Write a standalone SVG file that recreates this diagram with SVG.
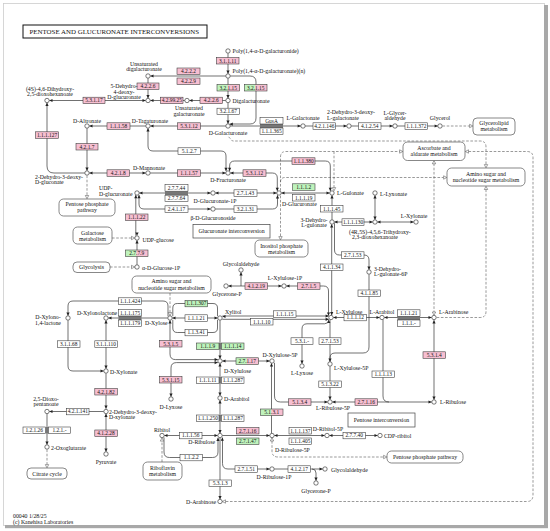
<svg xmlns="http://www.w3.org/2000/svg" width="550" height="531" viewBox="0 0 550 531">
<defs>
<style>
text{font-family:"Liberation Serif","Times New Roman",serif;fill:#111}
.t{font-size:5.8px}
.m{text-anchor:middle}
.s{text-anchor:start}
.r{text-anchor:end}
.et{font-size:5.4px;text-anchor:middle}
.c{fill:#fff;stroke:#222;stroke-width:.6}
.bw{fill:#fff;stroke:#333;stroke-width:.55}
.bp{fill:#f7bfd1;stroke:#333;stroke-width:.55}
.bg{fill:#bff3bc;stroke:#333;stroke-width:.55}
.bo{fill:none;stroke:#333;stroke-width:.55}
.pk{fill:#f7bfd1}
.gn{fill:#bff3bc}
.bar{fill:#777}
.ln{fill:none;stroke:#333;stroke-width:.7}
.dl{fill:none;stroke:#555;stroke-width:.6;stroke-dasharray:2.6 1.6}
.mp{fill:#fff;stroke:#555;stroke-width:.7}
.rb{fill:#fff;stroke:#444;stroke-width:.7}
</style>
<path id="a" d="M0,0L-3.2,-1.6L-3.2,1.6Z" fill="#222"/>
<path id="o" d="M0,0L-3.2,-1.7L-3.2,1.7Z" fill="#fff" stroke="#444" stroke-width=".5"/>
</defs>
<rect x="0" y="0" width="550" height="531" fill="#fff"/>
<rect x="3.5" y="3.5" width="541" height="522" fill="#fff" stroke="#ccc" stroke-width="0.8"/>
<rect x="544" y="5" width="4" height="523" fill="#a8a8a8"/>
<rect x="5" y="525" width="543" height="3.2" fill="#a8a8a8"/>

<g id="title">
<rect x="23" y="25" width="184" height="13" fill="#fff" stroke="#111" stroke-width="1"/>
<text x="29.5" y="34.3" font-size="6.2" textLength="169.5" lengthAdjust="spacingAndGlyphs">PENTOSE AND GLUCURONATE INTERCONVERSIONS</text>
</g>

<g id="connectors">
<!-- solid -->
<path class="ln" d="M228,53.3V73.8"/>
<path class="ln" d="M150.3,76H225.8"/>
<path class="ln" d="M148,78.2V98.3"/>
<path class="ln" d="M228,78.2V98.3"/>
<path class="ln" d="M230.2,76H250Q256,76 256,82V118Q256,124 250,124H229.6"/>
<path class="ln" d="M189.3,100.5H225.8"/>
<path class="ln" d="M150.3,100.5H184.8"/>
<path class="ln" d="M49.3,100.5H145.7"/>
<path class="ln" d="M228,102.7V123.7"/>
<path class="ln" d="M150.3,126H225.8"/>
<path class="ln" d="M89.3,126H145.8"/>
<path class="ln" d="M87,128.2V170.7"/>
<path class="ln" d="M47,102.8V166Q47,173 54,173H84.8"/>
<path class="ln" d="M89.3,173H145.8"/>
<path class="ln" d="M150.3,173H225.8"/>
<path class="ln" d="M148,128.3V146Q148,151 153,151H221Q226,151 226,156V170.9"/>
<path class="ln" d="M229.6,170.9V166Q229.6,161 234.6,161H325.3Q330.3,161 330.3,166V190.9"/>
<path class="ln" d="M230.3,173H272.3Q277.3,173 277.3,178V190.9"/>
<path class="ln" d="M230.2,126H300.8"/>
<path class="ln" d="M305.2,126H346.8"/>
<path class="ln" d="M351.2,126H392.8"/>
<path class="ln" d="M397.2,126H437.8"/>
<path class="ln" d="M139.3,193H210.7"/>
<path class="ln" d="M215.3,193H276.7"/>
<path class="ln" d="M281.3,193H329.7"/>
<path class="ln" d="M139,195V204Q139,209 144,209H210.7"/>
<path class="ln" d="M215.3,209H272.5Q277.5,209 277.5,204V195.2"/>
<path class="ln" d="M135.8,195.1V235.7"/>
<path class="ln" d="M137,264.8V240.3"/>
<path class="ln" d="M332,195.3V219.8"/>
<path class="ln" d="M334.3,222H372.7"/>
<path class="ln" d="M375,195.3V219.7"/>
<path class="ln" d="M377.3,222H413.7"/>
<path class="ln" d="M334.5,223.2V250Q334.5,255 339.5,255H364Q369,255 369,260V269.7"/>
<path class="ln" d="M331.7,224.3V315.2"/>
<path class="ln" d="M286.3,286H323.5Q328.5,286 328.5,291V315.6"/>
<path class="ln" d="M281.7,286H228.3"/>
<path class="ln" d="M241,286V272.3"/>
<path class="ln" d="M369,274.3V347Q369,353 363,353H335Q330,353 330,358V361.7"/>
<path class="ln" d="M330,319.7V361.7"/>
<path class="ln" d="M302,363.7V329Q302,323.8 307,323.8H324.5Q328.5,323.8 328.8,319.9"/>
<path class="ln" d="M330,366.3V399.7"/>
<path class="ln" d="M274.5,362.8V396Q274.5,402 280.5,402H327.7"/>
<path class="ln" d="M332.3,402H431.7"/>
<path class="ln" d="M434,320.2V399.7"/>
<path class="ln" d="M383,319.8V396Q383,402 389,402"/>
<path class="ln" d="M333.3,317.5H379.7"/>
<path class="ln" d="M384.3,317.5H431.7"/>
<path class="ln" d="M222.3,316H328.8"/>
<path class="ln" d="M222.3,319.3H328.8"/>
<path class="ln" d="M172.3,318H217.7"/>
<path class="ln" d="M172.8,316.2V308Q172.8,303.5 177.3,303.5H213Q217.5,303.5 217.5,308V316.2"/>
<path class="ln" d="M172.8,319.8V328Q172.8,332.5 177.3,332.5H213Q217.5,332.5 217.5,328V319.8"/>
<path class="ln" d="M168,316.3V306Q168,301 163,301H73Q68,301 68,306V315.7"/>
<path class="ln" d="M108.3,318H167.7"/>
<path class="ln" d="M68,320.3V366Q68,371 73,371H103.7"/>
<path class="ln" d="M106,320.3V368.7"/>
<path class="ln" d="M106,373.3V408.7"/>
<path class="ln" d="M103.7,411.5H49.3"/>
<path class="ln" d="M47,413.8V444.7"/>
<path class="ln" d="M106,413.8V451.7"/>
<path class="ln" d="M170,320.3V354Q170,359.6 175.6,359.6H217.8"/>
<path class="ln" d="M171,396.7V368Q171,362.6 176.4,362.6H217.8"/>
<path class="ln" d="M220,320.3V358.7"/>
<path class="ln" d="M222.3,361H269.7"/>
<path class="ln" d="M220,363.3V395.7"/>
<path class="ln" d="M220,400.3V433.2"/>
<path class="ln" d="M271.5,363.3V433.3"/>
<path class="ln" d="M222.3,435.5H269.7"/>
<path class="ln" d="M274.3,435.5H324.7"/>
<path class="ln" d="M329.3,435.5H377.7"/>
<path class="ln" d="M164.3,435.5H217.7"/>
<path class="ln" d="M164,437.4V452Q164,457.5 169.5,457.5H212.5Q218,457.5 218,452V437.8"/>
<path class="ln" d="M220,437.8V499.3"/>
<path class="ln" d="M222.5,437.6V463.5Q222.5,469 228,469H269.7"/>
<path class="ln" d="M274.3,469H322.7"/>
<path class="ln" d="M312,469Q316,469 316,473V480.7"/>
<!-- dashed -->
<path class="dl" d="M87,175.5V195.5"/>
<path class="dl" d="M112,238H131.5"/>
<path class="dl" d="M110,267H131.5"/>
<path class="dl" d="M280.5,195.7V236.5"/>
<path class="dl" d="M280.5,190.7V157Q280.5,151.5 286,151.5H399.6"/>
<path class="dl" d="M280.5,182Q280.5,177.5 285,177.5H443.6"/>
<path class="dl" d="M334,151.5V187.6"/>
<path class="dl" d="M228.6,136.8L232.5,141H480Q486,141 486,147V164.5"/>
<path class="dl" d="M468.5,151.5H527Q533,151.5 533,157.5V495Q533,501.5 527,501.5H225.5"/>
<path class="dl" d="M434,163.5V312"/>
<path class="dl" d="M486,189.5V311.5Q486,317.5 480,317.5H436.5"/>
<path class="dl" d="M442.5,126H469.6"/>
<path class="dl" d="M272,441V451Q272,457 278,457H383.6"/>
<path class="dl" d="M170,293V312.5"/>
<path class="dl" d="M47,449.5V464.6"/>
<path class="dl" d="M162,462V441.5"/>
<!-- arrowheads -->
<use href="#a" transform="translate(228,73.8) rotate(90)"/>
<use href="#a" transform="translate(150.3,76) rotate(180)"/>
<use href="#a" transform="translate(148,98.3) rotate(90)"/>
<use href="#a" transform="translate(228,98.3) rotate(90)"/>
<use href="#a" transform="translate(229.6,124.2) rotate(180)"/>
<use href="#a" transform="translate(189.3,100.5) rotate(180)"/>
<use href="#a" transform="translate(150.3,100.5) rotate(180)"/>
<use href="#a" transform="translate(49.3,100.5) rotate(180)"/>
<use href="#a" transform="translate(145.7,100.5)"/>
<use href="#a" transform="translate(228,123.7) rotate(90)"/>
<use href="#a" transform="translate(150.3,126) rotate(180)"/>
<use href="#a" transform="translate(89.3,126) rotate(180)"/>
<use href="#a" transform="translate(87,170.7) rotate(90)"/>
<use href="#a" transform="translate(47,102.8) rotate(-90)"/>
<use href="#a" transform="translate(89.3,173) rotate(180)"/>
<use href="#a" transform="translate(145.7,173)"/>
<use href="#a" transform="translate(225.7,173)"/>
<use href="#a" transform="translate(230.3,173) rotate(180)"/>
<use href="#a" transform="translate(148,128.3) rotate(-90)"/>
<use href="#a" transform="translate(226,170.9) rotate(90)"/>
<use href="#a" transform="translate(229.6,170.9) rotate(90)"/>
<use href="#a" transform="translate(330.3,190.9) rotate(90)"/>
<use href="#a" transform="translate(277.3,190.9) rotate(90)"/>
<use href="#a" transform="translate(300.8,126)"/>
<use href="#a" transform="translate(346.8,126)"/>
<use href="#a" transform="translate(392.8,126)"/>
<use href="#a" transform="translate(437.8,126)"/>
<use href="#a" transform="translate(139.3,193) rotate(180)"/>
<use href="#a" transform="translate(210.7,193)"/>
<use href="#a" transform="translate(215.3,193) rotate(180)"/>
<use href="#a" transform="translate(276.7,193)"/>
<use href="#a" transform="translate(281.3,193) rotate(180)"/>
<use href="#a" transform="translate(329.7,193)"/>
<use href="#a" transform="translate(135.8,195.1) rotate(-90)"/>
<use href="#a" transform="translate(139,195) rotate(-90)"/>
<use href="#a" transform="translate(210.7,209)"/>
<use href="#a" transform="translate(277.5,195.2) rotate(-90)"/>
<use href="#a" transform="translate(137,235.7) rotate(90)"/>
<use href="#a" transform="translate(137,240.3) rotate(-90)"/>
<use href="#a" transform="translate(332,195.3) rotate(-90)"/>
<use href="#a" transform="translate(334.3,222) rotate(180)"/>
<use href="#a" transform="translate(372.7,222)"/>
<use href="#a" transform="translate(375,195.3) rotate(-90)"/>
<use href="#a" transform="translate(375,219.7) rotate(90)"/>
<use href="#a" transform="translate(377.3,222) rotate(180)"/>
<use href="#a" transform="translate(413.7,222)"/>
<use href="#a" transform="translate(369,269.7) rotate(90)"/>
<use href="#a" transform="translate(331.7,224.3) rotate(-90)"/>
<use href="#a" transform="translate(331.7,315.2) rotate(90)"/>
<use href="#a" transform="translate(328.5,315.6) rotate(90)"/>
<use href="#a" transform="translate(286.3,286) rotate(180)"/>
<use href="#a" transform="translate(281.7,286)"/>
<use href="#a" transform="translate(228.3,286) rotate(180)"/>
<use href="#a" transform="translate(241,272.3) rotate(-90)"/>
<use href="#a" transform="translate(330,361.7) rotate(90)"/>
<use href="#a" transform="translate(328.8,319.9) rotate(-90)"/>
<use href="#a" transform="translate(302,363.7) rotate(90)"/>
<use href="#a" transform="translate(330,399.7) rotate(90)"/>
<use href="#a" transform="translate(327.7,402)"/>
<use href="#a" transform="translate(332.3,402) rotate(180)"/>
<use href="#a" transform="translate(431.7,402)"/>
<use href="#a" transform="translate(434,320.2) rotate(-90)"/>
<use href="#a" transform="translate(434,399.7) rotate(90)"/>
<use href="#a" transform="translate(333.3,317.5) rotate(180)"/>
<use href="#a" transform="translate(379.7,317.5)"/>
<use href="#a" transform="translate(384.3,317.5) rotate(180)"/>
<use href="#a" transform="translate(431.7,317.5)"/>
<use href="#a" transform="translate(222.3,316.5) rotate(180)"/>
<use href="#a" transform="translate(328.8,316)"/>
<use href="#a" transform="translate(328.8,319.3)"/>
<use href="#a" transform="translate(172.3,318) rotate(180)"/>
<use href="#a" transform="translate(217.7,318)"/>
<use href="#a" transform="translate(108.3,318) rotate(180)"/>
<use href="#a" transform="translate(68,315.7) rotate(90)"/>
<use href="#a" transform="translate(103.7,371)"/>
<use href="#a" transform="translate(106,320.3) rotate(-90)"/>
<use href="#a" transform="translate(106,368.7) rotate(90)"/>
<use href="#a" transform="translate(106,408.7) rotate(90)"/>
<use href="#a" transform="translate(49.3,411.5) rotate(180)"/>
<use href="#a" transform="translate(47,444.7) rotate(90)"/>
<use href="#a" transform="translate(106,413.8) rotate(-90)"/>
<use href="#a" transform="translate(106,451.7) rotate(90)"/>
<use href="#a" transform="translate(170,320.3) rotate(-90)"/>
<use href="#a" transform="translate(217.8,359.6)"/>
<use href="#a" transform="translate(217.8,362.6)"/>
<use href="#a" transform="translate(171,396.7) rotate(90)"/>
<use href="#a" transform="translate(220,358.7) rotate(90)"/>
<use href="#a" transform="translate(222.3,361) rotate(180)"/>
<use href="#a" transform="translate(269.7,361)"/>
<use href="#a" transform="translate(220,363.3) rotate(-90)"/>
<use href="#a" transform="translate(220,395.7) rotate(90)"/>
<use href="#a" transform="translate(220,400.3) rotate(-90)"/>
<use href="#a" transform="translate(220,433.2) rotate(90)"/>
<use href="#a" transform="translate(271.5,363.3) rotate(-90)"/>
<use href="#a" transform="translate(269.7,435.5)"/>
<use href="#a" transform="translate(274.3,435.5) rotate(180)"/>
<use href="#a" transform="translate(324.7,435.5)"/>
<use href="#a" transform="translate(329.3,435.5) rotate(180)"/>
<use href="#a" transform="translate(377.7,435.5)"/>
<use href="#a" transform="translate(164.3,435.5) rotate(180)"/>
<use href="#a" transform="translate(217.7,435.5)"/>
<use href="#a" transform="translate(218,437.8) rotate(-90)"/>
<use href="#a" transform="translate(222.3,437.6) rotate(-90)"/>
<use href="#a" transform="translate(220,499.3) rotate(90)"/>
<use href="#a" transform="translate(269.7,469)"/>
<use href="#a" transform="translate(322.7,469)"/>
<use href="#a" transform="translate(316,480.7) rotate(90)"/>
<use href="#o" transform="translate(87,198.7) rotate(90)"/>
<use href="#o" transform="translate(134.7,238)"/>
<use href="#o" transform="translate(134.7,267)"/>
<use href="#o" transform="translate(280.5,239.8) rotate(90)"/>
<use href="#o" transform="translate(402.8,151.5)"/>
<use href="#o" transform="translate(446.8,177.5)"/>
<use href="#o" transform="translate(334,190.8) rotate(90)"/>
<use href="#o" transform="translate(486,167.8) rotate(90)"/>
<use href="#o" transform="translate(465.3,151.5) rotate(180)"/>
<use href="#o" transform="translate(222.3,501.5) rotate(180)"/>
<use href="#o" transform="translate(434,160.6) rotate(-90)"/>
<use href="#o" transform="translate(434,315.2) rotate(90)"/>
<use href="#o" transform="translate(486,186.3) rotate(-90)"/>
<use href="#o" transform="translate(472.8,126)"/>
<use href="#o" transform="translate(272,437.8) rotate(-90)"/>
<use href="#o" transform="translate(386.8,457)"/>
<use href="#o" transform="translate(170,315.7) rotate(90)"/>
<use href="#o" transform="translate(47,467.8) rotate(90)"/>
<use href="#o" transform="translate(162,437.9) rotate(-90)"/>
</g>

<g id="maps">
<g id="m_glycerolipid"><rect class="mp" x="473" y="118" width="42" height="17" rx="4"/><text class="t m" x="494" y="124.8">Glycerolipid</text><text class="t m" x="494" y="130.8">metabolism</text></g>
<g id="m_ascorbate"><rect class="mp" x="403" y="142" width="62" height="18.5" rx="4.5"/><text class="t m" x="434" y="149.7">Ascorbate and</text><text class="t m" x="434" y="155.9">aldarate metabolism</text></g>
<g id="m_aminosugar_r"><rect class="mp" x="447" y="168" width="78" height="18" rx="4.5"/><text class="t m" x="486" y="175.5">Amino sugar and</text><text class="t m" x="486" y="181.7">nucleotide sugar metabolism</text></g>
<g id="m_ppp_l"><rect class="mp" x="59" y="199" width="56" height="17" rx="4.5"/><text class="t m" x="87" y="205.7">Pentose phosphate</text><text class="t m" x="87" y="211.9">pathway</text></g>
<g id="m_galactose"><rect class="mp" x="73" y="227" width="39" height="17" rx="4.5"/><text class="t m" x="92.5" y="234.6">Galactose</text><text class="t m" x="92.5" y="240.8">metabolism</text></g>
<g id="m_glycolysis"><rect class="mp" x="73" y="262" width="37" height="10.5" rx="4"/><text class="t m" x="91.5" y="269.3">Glycolysis</text></g>
<g id="m_inositol"><rect class="mp" x="255" y="240" width="53" height="17" rx="4.5"/><text class="t m" x="281.5" y="247.6">Inositol phosphate</text><text class="t m" x="281.5" y="253.8">metabolism</text></g>
<g id="m_aminosugar_l"><rect class="mp" x="132" y="276" width="79" height="17" rx="4.5"/><text class="t m" x="171.5" y="283.4">Amino sugar and</text><text class="t m" x="171.5" y="289.6">nucleotide sugar metabolism</text></g>
<g id="m_riboflavin"><rect class="mp" x="143" y="462" width="39" height="18" rx="4.5"/><text class="t m" x="162.5" y="469.8">Riboflavin</text><text class="t m" x="162.5" y="476">metabolism</text></g>
<g id="m_citrate"><rect class="mp" x="27" y="468" width="40" height="11" rx="4"/><text class="t m" x="47" y="475.6">Citrate cycle</text></g>
<g id="m_ppp_r"><rect class="mp" x="387" y="451" width="76" height="12" rx="4.5"/><text class="t m" x="425" y="459.1">Pentose phosphate pathway</text></g>
<g id="r_glucuronate"><rect class="rb" x="193" y="224.5" width="77" height="13.5"/><text class="t m" x="231.5" y="233.3">Glucuronate interconversion</text></g>
<g id="r_pentose"><rect class="rb" x="348" y="413" width="67" height="14"/><text class="t m" x="381.5" y="422">Pentose interconversion</text></g>
</g>

<g id="enzymes">
<rect class="bar" x="260" y="124" width="23" height="4"/>
<rect class="bar" x="165" y="191.2" width="23" height="4"/>
<rect class="bar" x="118.5" y="316" width="23" height="4"/>
<rect class="bar" x="397.5" y="316.2" width="22.5" height="3.8"/>
<rect class="bar" x="45.5" y="427" width="3" height="6.5"/>
<rect class="bar" x="219" y="343" width="2.5" height="6.5"/>
<rect class="bar" x="219" y="377" width="2.5" height="6.5"/>
<rect class="bar" x="219" y="415" width="2.5" height="6.5"/>
<g id="e_3.1.1.11"><rect class="bp" x="216.5" y="57.5" width="22.5" height="6.5"/><text class="et" x="227.75" y="62.6">3.1.1.11</text></g>
<g id="e_4.2.2.2"><rect class="bp" x="177" y="68" width="23" height="6.5"/><text class="et" x="188.5" y="73.1">4.2.2.2</text></g>
<g id="e_4.2.2.9"><rect class="bp" x="177" y="78" width="23" height="6.5"/><text class="et" x="188.5" y="83.1">4.2.2.9</text></g>
<g id="e_3.2.1.15a"><rect class="gn" x="217" y="84.5" width="22.5" height="6.5"/><rect class="pk" x="227.8" y="84.5" width="11.7" height="6.5"/><rect class="bo" x="217" y="84.5" width="22.5" height="6.5"/><text class="et" x="228.25" y="89.6">3.2.1.15</text></g>
<g id="e_3.2.1.15b"><rect class="gn" x="244.5" y="84.5" width="22.5" height="6.5"/><rect class="pk" x="255.3" y="84.5" width="11.7" height="6.5"/><rect class="bo" x="244.5" y="84.5" width="22.5" height="6.5"/><text class="et" x="255.75" y="89.6">3.2.1.15</text></g>
<g id="e_4.2.2.6a"><rect class="bp" x="137" y="83" width="22" height="6.5"/><text class="et" x="148" y="88.1">4.2.2.6</text></g>
<g id="e_5.3.1.17"><rect class="bp" x="83" y="97.2" width="22" height="6.5"/><text class="et" x="94" y="102.3">5.3.1.17</text></g>
<g id="e_4.2.99.25"><rect class="bp" x="160.5" y="97.2" width="22.5" height="6.5"/><text class="et" x="171.75" y="102.3">4.2.99.25</text></g>
<g id="e_4.2.2.6b"><rect class="bp" x="200" y="97.2" width="22.5" height="6.5"/><text class="et" x="211.25" y="102.3">4.2.2.6</text></g>
<g id="e_3.2.1.67"><rect class="bw" x="217" y="108.2" width="22.5" height="6.5"/><text class="et" x="228.25" y="113.3">3.2.1.67</text></g>
<g id="e_1.1.1.58"><rect class="bp" x="107" y="122.8" width="23" height="6.5"/><text class="et" x="118.5" y="127.9">1.1.1.58</text></g>
<g id="e_5.3.1.12a"><rect class="bp" x="177.5" y="122.8" width="23" height="6.5"/><text class="et" x="189" y="127.9">5.3.1.12</text></g>
<g id="e_GusA"><rect class="bw" x="260" y="117.5" width="23" height="6.5"/><text class="et" x="271.5" y="122.6">GusA</text></g>
<g id="e_1.1.1.365"><rect class="bw" x="260" y="128" width="23" height="6.5"/><text class="et" x="271.5" y="133.1">1.1.1.365</text></g>
<g id="e_4.2.1.146"><rect class="bw" x="313" y="122.8" width="22.5" height="6.5"/><text class="et" x="324.25" y="127.9">4.2.1.146</text></g>
<g id="e_4.1.2.54"><rect class="bw" x="358.5" y="122.8" width="22.5" height="6.5"/><text class="et" x="369.75" y="127.9">4.1.2.54</text></g>
<g id="e_1.1.1.372"><rect class="bw" x="405" y="122.8" width="22.5" height="6.5"/><text class="et" x="416.25" y="127.9">1.1.1.372</text></g>
<g id="e_1.1.1.127"><rect class="bp" x="35.5" y="131.8" width="23" height="6.5"/><text class="et" x="47" y="136.9">1.1.1.127</text></g>
<g id="e_4.2.1.7"><rect class="bp" x="76" y="143.5" width="22" height="6.5"/><text class="et" x="87" y="148.6">4.2.1.7</text></g>
<g id="e_5.1.2.7"><rect class="bw" x="178" y="147.8" width="22.5" height="6.5"/><text class="et" x="189.25" y="152.9">5.1.2.7</text></g>
<g id="e_4.2.1.8"><rect class="bp" x="107" y="169.8" width="22.5" height="6.5"/><text class="et" x="118.25" y="174.9">4.2.1.8</text></g>
<g id="e_1.1.1.57"><rect class="bp" x="177.5" y="169.8" width="23" height="6.5"/><text class="et" x="189" y="174.9">1.1.1.57</text></g>
<g id="e_5.3.1.12b"><rect class="bp" x="243" y="169.8" width="23" height="6.5"/><text class="et" x="254.5" y="174.9">5.3.1.12</text></g>
<g id="e_1.1.1.380"><rect class="bp" x="292" y="157.8" width="23" height="6.5"/><text class="et" x="303.5" y="162.9">1.1.1.380</text></g>
<g id="e_2.7.7.44"><rect class="bw" x="165" y="184.7" width="23" height="6.5"/><text class="et" x="176.5" y="189.8">2.7.7.44</text></g>
<g id="e_2.7.7.64"><rect class="bw" x="165" y="195.2" width="23" height="6.5"/><text class="et" x="176.5" y="200.3">2.7.7.64</text></g>
<g id="e_2.7.1.43"><rect class="bw" x="234" y="189.8" width="23" height="6.5"/><text class="et" x="245.5" y="194.9">2.7.1.43</text></g>
<g id="e_1.1.1.2"><rect class="bg" x="292.5" y="183.8" width="22.5" height="6.5"/><text class="et" x="303.75" y="188.9">1.1.1.2</text></g>
<g id="e_1.1.1.19"><rect class="bw" x="292.5" y="194.5" width="22.5" height="6.5"/><text class="et" x="303.75" y="199.6">1.1.1.19</text></g>
<g id="e_2.4.1.17"><rect class="bw" x="165" y="205.8" width="23" height="6.5"/><text class="et" x="176.5" y="210.9">2.4.1.17</text></g>
<g id="e_3.2.1.31"><rect class="bw" x="234" y="205.8" width="23" height="6.5"/><text class="et" x="245.5" y="210.9">3.2.1.31</text></g>
<g id="e_1.1.1.45"><rect class="bw" x="320.5" y="205.5" width="22.5" height="6.5"/><text class="et" x="331.75" y="210.6">1.1.1.45</text></g>
<g id="e_1.1.1.130"><rect class="bw" x="342" y="218.8" width="22" height="6.5"/><text class="et" x="353" y="223.9">1.1.1.130</text></g>
<g id="e_1.1.1.22"><rect class="bp" x="125.5" y="214" width="22.5" height="6.5"/><text class="et" x="136.75" y="219.1">1.1.1.22</text></g>
<g id="e_2.7.7.9"><rect class="gn" x="125.5" y="250" width="22.5" height="6.5"/><rect class="pk" x="136.3" y="250" width="11.7" height="6.5"/><rect class="bo" x="125.5" y="250" width="22.5" height="6.5"/><text class="et" x="136.75" y="255.1">2.7.7.9</text></g>
<g id="e_2.7.1.53a"><rect class="bw" x="341.5" y="251.8" width="22.5" height="6.5"/><text class="et" x="352.75" y="256.9">2.7.1.53</text></g>
<g id="e_4.1.1.34"><rect class="bw" x="320.5" y="264" width="22.5" height="6.5"/><text class="et" x="331.75" y="269.1">4.1.1.34</text></g>
<g id="e_4.1.2.19"><rect class="bp" x="245" y="282.8" width="22.5" height="6.5"/><text class="et" x="256.25" y="287.9">4.1.2.19</text></g>
<g id="e_2.7.1.5"><rect class="bp" x="297.5" y="282.8" width="22.5" height="6.5"/><text class="et" x="308.75" y="287.9">2.7.1.5</text></g>
<g id="e_4.1.1.85"><rect class="bw" x="358" y="290" width="22.5" height="6.5"/><text class="et" x="369.25" y="295.1">4.1.1.85</text></g>
<g id="e_1.1.1.424"><rect class="bw" x="118.5" y="297.8" width="23" height="6.5"/><text class="et" x="130" y="302.9">1.1.1.424</text></g>
<g id="e_1.1.1.307"><rect class="bg" x="185" y="300.3" width="22.5" height="6.5"/><text class="et" x="196.25" y="305.4">1.1.1.307</text></g>
<g id="e_1.1.1.175"><rect class="bw" x="118.5" y="309.5" width="23" height="6.5"/><text class="et" x="130" y="314.6">1.1.1.175</text></g>
<g id="e_1.1.1.179"><rect class="bw" x="118.5" y="320" width="23" height="6.5"/><text class="et" x="130" y="325.1">1.1.1.179</text></g>
<g id="e_1.1.1.21a"><rect class="bw" x="185" y="314.8" width="22.5" height="6.5"/><text class="et" x="196.25" y="319.9">1.1.1.21</text></g>
<g id="e_1.1.3.41"><rect class="bw" x="185" y="329.3" width="22.5" height="6.5"/><text class="et" x="196.25" y="334.4">1.1.3.41</text></g>
<g id="e_1.1.1.15"><rect class="bw" x="273.5" y="310.8" width="22.5" height="6.5"/><text class="et" x="284.75" y="315.9">1.1.1.15</text></g>
<g id="e_1.1.1.10"><rect class="bw" x="250.5" y="318.5" width="22.5" height="6.5"/><text class="et" x="261.75" y="323.6">1.1.1.10</text></g>
<g id="e_1.1.1.12"><rect class="bw" x="344" y="314.3" width="22.5" height="6.5"/><text class="et" x="355.25" y="319.4">1.1.1.12</text></g>
<g id="e_1.1.1.21b"><rect class="bw" x="397.5" y="309.8" width="22.5" height="6.5"/><text class="et" x="408.75" y="314.9">1.1.1.21</text></g>
<g id="e_1.1.1.-"><rect class="bw" x="397.5" y="320" width="22.5" height="6.5"/><text class="et" x="408.75" y="325.1">1.1.1.-</text></g>
<g id="e_3.1.1.68"><rect class="bw" x="57.5" y="340.8" width="22.5" height="6.5"/><text class="et" x="68.75" y="345.9">3.1.1.68</text></g>
<g id="e_3.1.1.110"><rect class="bw" x="94.8" y="340.8" width="22.5" height="6.5"/><text class="et" x="106" y="345.9">3.1.1.110</text></g>
<g id="e_5.3.1.5"><rect class="bp" x="159.5" y="340.5" width="22.5" height="6.5"/><text class="et" x="170.75" y="345.6">5.3.1.5</text></g>
<g id="e_1.1.1.9"><rect class="bg" x="196.5" y="343" width="22.5" height="6.5"/><text class="et" x="207.75" y="348.1">1.1.1.9</text></g>
<g id="e_1.1.1.14"><rect class="bg" x="221.5" y="343" width="22.5" height="6.5"/><text class="et" x="232.75" y="348.1">1.1.1.14</text></g>
<g id="e_5.3.1.-"><rect class="bw" x="291" y="337.8" width="22" height="6.5"/><text class="et" x="302" y="342.9">5.3.1.-</text></g>
<g id="e_2.7.1.53b"><rect class="bw" x="319" y="337.8" width="22" height="6.5"/><text class="et" x="330" y="342.9">2.7.1.53</text></g>
<g id="e_2.7.1.17"><rect class="gn" x="236" y="357.8" width="22.5" height="6.5"/><rect class="pk" x="246.8" y="357.8" width="11.7" height="6.5"/><rect class="bo" x="236" y="357.8" width="22.5" height="6.5"/><text class="et" x="247.25" y="362.9">2.7.1.17</text></g>
<g id="e_5.3.1.15"><rect class="bp" x="159.5" y="376.5" width="22.5" height="6.5"/><text class="et" x="170.75" y="381.6">5.3.1.15</text></g>
<g id="e_1.1.1.11"><rect class="bw" x="196.5" y="377" width="22.5" height="6.5"/><text class="et" x="207.75" y="382.1">1.1.1.11</text></g>
<g id="e_1.1.1.287a"><rect class="bw" x="221.5" y="377" width="22.5" height="6.5"/><text class="et" x="232.75" y="382.1">1.1.1.287</text></g>
<g id="e_1.1.1.13"><rect class="bw" x="372" y="371" width="22.5" height="6.5"/><text class="et" x="383.25" y="376.1">1.1.1.13</text></g>
<g id="e_5.1.3.22"><rect class="bw" x="318.8" y="381" width="22.5" height="6.5"/><text class="et" x="330" y="386.1">5.1.3.22</text></g>
<g id="e_4.2.1.82"><rect class="bp" x="94.8" y="388.5" width="22.5" height="6.5"/><text class="et" x="106" y="393.6">4.2.1.82</text></g>
<g id="e_5.1.3.4"><rect class="bp" x="288.5" y="398.8" width="22.5" height="6.5"/><text class="et" x="299.75" y="403.9">5.1.3.4</text></g>
<g id="e_2.7.1.16a"><rect class="bp" x="355" y="398.8" width="22.5" height="6.5"/><text class="et" x="366.25" y="403.9">2.7.1.16</text></g>
<g id="e_5.1.3.1"><rect class="gn" x="260.5" y="409" width="22.5" height="6.5"/><rect class="pk" x="271.3" y="409" width="11.7" height="6.5"/><rect class="bo" x="260.5" y="409" width="22.5" height="6.5"/><text class="et" x="271.75" y="414.1">5.1.3.1</text></g>
<g id="e_4.2.1.141"><rect class="bw" x="66.5" y="408.3" width="22.5" height="6.5"/><text class="et" x="77.75" y="413.4">4.2.1.141</text></g>
<g id="e_1.1.1.250"><rect class="bw" x="196.5" y="415" width="22.5" height="6.5"/><text class="et" x="207.75" y="420.1">1.1.1.250</text></g>
<g id="e_1.1.1.287b"><rect class="bw" x="221.5" y="415" width="22.5" height="6.5"/><text class="et" x="232.75" y="420.1">1.1.1.287</text></g>
<g id="e_1.2.1.26"><rect class="bw" x="23" y="427" width="22.5" height="6.5"/><text class="et" x="34.25" y="432.1">1.2.1.26</text></g>
<g id="e_1.2.1.-"><rect class="bw" x="48.5" y="427" width="22" height="6.5"/><text class="et" x="59.5" y="432.1">1.2.1.-</text></g>
<g id="e_2.7.1.16b"><rect class="bp" x="236.5" y="427.5" width="22.5" height="6.5"/><text class="et" x="247.75" y="432.6">2.7.1.16</text></g>
<g id="e_2.7.1.47"><rect class="bg" x="236.5" y="438" width="22.5" height="6.5"/><text class="et" x="247.75" y="443.1">2.7.1.47</text></g>
<g id="e_1.1.1.137"><rect class="bw" x="289" y="427.5" width="22.5" height="6.5"/><text class="et" x="300.25" y="432.6">1.1.1.137</text></g>
<g id="e_1.1.1.405"><rect class="bw" x="289" y="438" width="22.5" height="6.5"/><text class="et" x="300.25" y="443.1">1.1.1.405</text></g>
<g id="e_4.1.2.28"><rect class="bp" x="94.8" y="430" width="22.5" height="6.5"/><text class="et" x="106" y="435.1">4.1.2.28</text></g>
<g id="e_1.1.1.56"><rect class="bw" x="179.5" y="432.3" width="22.5" height="6.5"/><text class="et" x="190.75" y="437.4">1.1.1.56</text></g>
<g id="e_2.7.7.40"><rect class="bw" x="343" y="432.3" width="22.5" height="6.5"/><text class="et" x="354.25" y="437.4">2.7.7.40</text></g>
<g id="e_5.3.1.4"><rect class="bp" x="423" y="351.8" width="22.5" height="6.5"/><text class="et" x="434.25" y="356.9">5.3.1.4</text></g>
<g id="e_1.1.2.2"><rect class="bw" x="180" y="454.3" width="22.5" height="6.5"/><text class="et" x="191.25" y="459.4">1.1.2.2</text></g>
<g id="e_2.7.1.51"><rect class="bw" x="235" y="465.8" width="22.5" height="6.5"/><text class="et" x="246.25" y="470.9">2.7.1.51</text></g>
<g id="e_4.1.2.17"><rect class="bw" x="288" y="465.8" width="22.5" height="6.5"/><text class="et" x="299.25" y="470.9">4.1.2.17</text></g>
<g id="e_5.3.1.3"><rect class="bw" x="209" y="480" width="22.5" height="6.5"/><text class="et" x="220.25" y="485.1">5.3.1.3</text></g>
</g>

<g id="compounds">
<g id="c_polygalacturonide"><circle class="c" cx="228" cy="51" r="2.2"/><text class="t s" x="232.5" y="53">Poly(1,4-α-D-galacturonide)</text></g>
<g id="c_polygalacturonate_n"><circle class="c" cx="228" cy="76" r="2.2"/><text class="t s" x="232.5" y="73">Poly(1,4-α-D-galacturonate)(n)</text></g>
<g id="c_unsat_digal"><circle class="c" cx="148" cy="76" r="2.2"/><text class="t m" x="144" y="66">Unsaturated</text><text class="t m" x="144" y="71">digalacturonate</text></g>
<g id="c_5dehydro"><circle class="c" cx="148" cy="100.5" r="2.2"/><text class="t m" x="124" y="88">5-Dehydro-</text><text class="t m" x="124" y="93.5">4-deoxy-</text><text class="t m" x="124" y="99">D-glucuronate</text></g>
<g id="c_4S"><circle class="c" cx="47" cy="100.5" r="2.2"/><text class="t m" x="50" y="91">(4S)-4,6-Dihydroxy-</text><text class="t m" x="50" y="96">2,5-dioxohexanoate</text></g>
<g id="c_unsat_gal"><circle class="c" cx="187" cy="100.5" r="2.2"/><text class="t m" x="189" y="110">Unsaturated</text><text class="t m" x="189" y="116">galacturonate</text></g>
<g id="c_digal"><circle class="c" cx="228" cy="100.5" r="2.2"/><text class="t s" x="232.5" y="103">Digalacturonate</text></g>
<g id="c_dgalacturonate"><circle class="c" cx="228" cy="126" r="2.2"/><text class="t m" x="228" y="135">D-Galacturonate</text></g>
<g id="c_lgalactonate"><circle class="c" cx="303" cy="126" r="2.2"/><text class="t m" x="303" y="120">L-Galactonate</text></g>
<g id="c_2dh_lgalactonate"><circle class="c" cx="349" cy="126" r="2.2"/><text class="t s" x="327" y="114">2-Dehydro-3-deoxy-</text><text class="t s" x="327" y="120">L-galactonate</text></g>
<g id="c_lglyceraldehyde"><circle class="c" cx="395" cy="126" r="2.2"/><text class="t m" x="395" y="114.5">L-Glycer-</text><text class="t m" x="395" y="119.5">aldehyde</text></g>
<g id="c_glycerol"><circle class="c" cx="440" cy="126" r="2.2"/><text class="t m" x="440" y="120">Glycerol</text></g>
<g id="c_daltronate"><circle class="c" cx="87" cy="126" r="2.2"/><text class="t m" x="87" y="123">D-Altronate</text></g>
<g id="c_dtagaturonate"><circle class="c" cx="148" cy="126" r="2.2"/><text class="t m" x="150" y="122.5">D-Tagaturonate</text></g>
<g id="c_2dh_dgluconate"><circle class="c" cx="87" cy="173" r="2.2"/><text class="t s" x="35" y="178.5">2-Dehydro-3-deoxy-</text><text class="t s" x="35" y="183.5">D-gluconate</text></g>
<g id="c_dmannonate"><circle class="c" cx="148" cy="173" r="2.2"/><text class="t m" x="149" y="170">D-Mannonate</text></g>
<g id="c_dfructuronate"><circle class="c" cx="228" cy="173" r="2.2"/><text class="t m" x="228" y="182">D-Fructuronate</text></g>
<g id="c_udpglucuronate"><circle class="c" cx="137" cy="193" r="2.2"/><text class="t s" x="99" y="190">UDP-</text><text class="t s" x="99" y="196">D-glucuronate</text></g>
<g id="c_dglucuronate1p"><circle class="c" cx="213" cy="193" r="2.2"/><text class="t m" x="215" y="202.5">D-Glucuronate-1P</text></g>
<g id="c_dglucuronate"><circle class="c" cx="279" cy="193" r="2.2"/><text class="t s" x="282" y="206">D-Glucuronate</text></g>
<g id="c_bglucuronoside"><circle class="c" cx="213" cy="209" r="2.2"/><text class="t m" x="213" y="219.5">β-D-Glucuronoside</text></g>
<g id="c_lgulonate"><circle class="c" cx="332" cy="193" r="2.2"/><text class="t s" x="337" y="195">L-Gulonate</text></g>
<g id="c_3dh_lgulonate"><circle class="c" cx="332" cy="222" r="2.2"/><text class="t m" x="314" y="221.5">3-Dehydro-</text><text class="t m" x="314" y="226.5">L-gulonate</text></g>
<g id="c_4R5S"><circle class="c" cx="375" cy="222" r="2.2"/><text class="t s" x="349" y="233.5">(4R,5S)-4,5,6-Trihydroxy-</text><text class="t s" x="352" y="238.5">2,3-dioxohexanoate</text></g>
<g id="c_llyxonate"><circle class="c" cx="375" cy="193" r="2.2"/><text class="t s" x="380" y="195.5">L-Lyxonate</text></g>
<g id="c_lxylonate"><circle class="c" cx="416" cy="222" r="2.2"/><text class="t m" x="414" y="217.5">L-Xylonate</text></g>
<g id="c_3dh_lgulonate6p"><circle class="c" cx="369" cy="272" r="2.2"/><text class="t s" x="374" y="271">3-Dehydro-</text><text class="t s" x="374" y="276">L-gulonate-6P</text></g>
<g id="c_udpglucose"><circle class="c" cx="137" cy="238" r="2.2"/><text class="t s" x="142.5" y="242">UDP-glucose</text></g>
<g id="c_aglucose1p"><circle class="c" cx="137" cy="267" r="2.2"/><text class="t s" x="142" y="269.5">α-D-Glucose-1P</text></g>
<g id="c_glycolaldehyde1"><circle class="c" cx="241" cy="270" r="2.2"/><text class="t m" x="241" y="266">Glycolaldehyde</text></g>
<g id="c_glyceronep1"><circle class="c" cx="226" cy="286" r="2.2"/><text class="t m" x="227" y="296">Glycerone-P</text></g>
<g id="c_lxylulose1p"><circle class="c" cx="284" cy="286" r="2.2"/><text class="t m" x="285" y="280">L-Xylulose-1P</text></g>
<g id="c_dxylono14lactone"><circle class="c" cx="68" cy="318" r="2.2"/><text class="t m" x="48" y="318.5">D-Xylono-</text><text class="t m" x="48" y="324.5">1,4-lactone</text></g>
<g id="c_dxylonolactone"><circle class="c" cx="106" cy="318" r="2.2"/><text class="t m" x="97" y="314.5">D-Xylonolactone</text></g>
<g id="c_dxylose"><circle class="c" cx="170" cy="318" r="2.2"/><text class="t r" x="167.5" y="325">D-Xylose</text></g>
<g id="c_xylitol"><circle class="c" cx="220" cy="318" r="2.2"/><text class="t s" x="225" y="314">Xylitol</text></g>
<g id="c_lxylulose"><circle class="c" cx="331" cy="317.5" r="2.2"/><text class="t s" x="336" y="313.5">L-Xylulose</text></g>
<g id="c_larabitol"><circle class="c" cx="382" cy="317.5" r="2.2"/><text class="t m" x="382" y="313.5">L-Arabitol</text></g>
<g id="c_larabinose"><circle class="c" cx="434" cy="317.5" r="2.2"/><text class="t s" x="439" y="313.5">L-Arabinose</text></g>
<g id="c_dxylonate"><circle class="c" cx="106" cy="371" r="2.2"/><text class="t s" x="110" y="373.5">D-Xylonate</text></g>
<g id="c_dxylulose"><circle class="c" cx="220" cy="361" r="2.2"/><text class="t s" x="224" y="373">D-Xylulose</text></g>
<g id="c_dxylulose5p"><circle class="c" cx="272" cy="361" r="2.2"/><text class="t m" x="280" y="357">D-Xylulose-5P</text></g>
<g id="c_llyxose"><circle class="c" cx="302" cy="366" r="2.2"/><text class="t m" x="302" y="375">L-Lyxose</text></g>
<g id="c_lxylulose5p"><circle class="c" cx="330" cy="364" r="2.2"/><text class="t s" x="334" y="370">L-Xylulose-5P</text></g>
<g id="c_dlyxose"><circle class="c" cx="171" cy="399" r="2.2"/><text class="t m" x="171" y="409">D-Lyxose</text></g>
<g id="c_darabitol"><circle class="c" cx="220" cy="398" r="2.2"/><text class="t s" x="224" y="401">D-Arabitol</text></g>
<g id="c_lribulose5p"><circle class="c" cx="330" cy="402" r="2.2"/><text class="t m" x="333" y="410">L-Ribulose-5P</text></g>
<g id="c_lribulose"><circle class="c" cx="434" cy="402" r="2.2"/><text class="t s" x="440" y="404">L-Ribulose</text></g>
<g id="c_2dh_dxylonate"><circle class="c" cx="106" cy="411.5" r="2.2"/><text class="t s" x="109" y="413.5">2-Dehydro-3-deoxy-</text><text class="t s" x="109" y="418.5">D-xylonate</text></g>
<g id="c_25dioxopentanoate"><circle class="c" cx="47" cy="411.5" r="2.2"/><text class="t m" x="46" y="401">2,5-Dioxo-</text><text class="t m" x="46" y="406">pentanoate</text></g>
<g id="c_2oxoglutarate"><circle class="c" cx="47" cy="447" r="2.2"/><text class="t s" x="51" y="449.5">2-Oxoglutarate</text></g>
<g id="c_pyruvate"><circle class="c" cx="106" cy="454" r="2.2"/><text class="t m" x="106" y="464">Pyruvate</text></g>
<g id="c_ribitol"><circle class="c" cx="162" cy="435.5" r="2.2"/><text class="t m" x="162" y="432">Ribitol</text></g>
<g id="c_dribulose"><circle class="c" cx="220" cy="435.5" r="2.2"/><text class="t r" x="215" y="443.5">D-Ribulose</text></g>
<g id="c_dribulose5p"><circle class="c" cx="272" cy="435.5" r="2.2"/><text class="t s" x="275" y="452">D-Ribulose-5P</text></g>
<g id="c_dribitol5p"><circle class="c" cx="327" cy="435.5" r="2.2"/><text class="t m" x="328" y="431">D-Ribitol-5P</text></g>
<g id="c_cdpribitol"><circle class="c" cx="380" cy="435.5" r="2.2"/><text class="t s" x="384" y="438">CDP-ribitol</text></g>
<g id="c_dribulose1p"><circle class="c" cx="272" cy="469" r="2.2"/><text class="t m" x="274" y="478.5">D-Ribulose-1P</text></g>
<g id="c_glycolaldehyde2"><circle class="c" cx="325" cy="469" r="2.2"/><text class="t s" x="331" y="471.5">Glycolaldehyde</text></g>
<g id="c_glyceronep2"><circle class="c" cx="316" cy="483" r="2.2"/><text class="t m" x="316" y="492.5">Glycerone-P</text></g>
<g id="c_darabinose"><circle class="c" cx="220" cy="501.5" r="2.2"/><text class="t r" x="216" y="504">D-Arabinose</text></g>
</g>

<g id="footer">
<text class="t s" x="13" y="518.3" font-size="5.6">00040 1/28/25</text>
<text class="t s" x="13" y="524" font-size="5.6">(c) Kanehisa Laboratories</text>
</g>
</svg>
